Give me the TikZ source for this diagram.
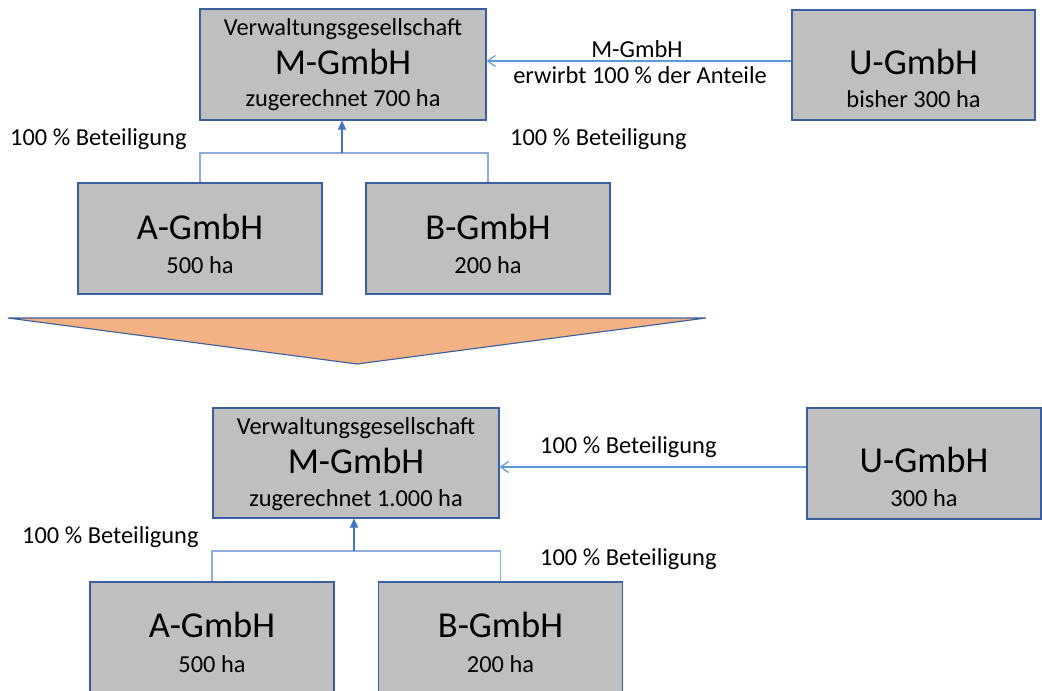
\documentclass[tikz,border=0pt]{standalone}
\usepackage{fontspec}
\setmainfont{Carlito}
\usetikzlibrary{arrows.meta}
\definecolor{boxfill}{HTML}{BFBFBF}
\definecolor{boxline}{HTML}{3A5FA0}
\definecolor{lineblue}{HTML}{5B9BD5}
\definecolor{bracketblue}{HTML}{8FAADC}
\definecolor{arrowblue}{HTML}{4472C4}
\definecolor{triorange}{HTML}{F4B183}
\tikzset{
  box/.style={draw=boxline, fill=boxfill, line width=1.1pt, inner sep=0pt},
  small/.style={inner sep=0pt, anchor=base, font=\fontsize{24.4}{28}\selectfont},
  big/.style={inner sep=0pt, anchor=base, font=\fontsize{36.5}{42}\selectfont},
  harrow/.style={draw=lineblue, line width=1.1pt, -{Straight Barb[length=8pt,width=11pt,line width=1.1pt]}},
  bracket/.style={draw=bracketblue, line width=1.1pt},
  uparrow/.style={draw=arrowblue, line width=1.1pt, -{Triangle[length=9pt,width=8pt]}},
  tri/.style={draw=boxline, fill=triorange, line width=1.1pt, line join=miter}
}
\begin{document}
\begin{tikzpicture}[x=1pt,y=-1pt]
\clip (0,0) rectangle (1042,691);
\fill[white] (0,0) rectangle (1042,691);
% ---------- top part ----------
\node[box, minimum width=286pt, minimum height=111pt] (M1) at (343,64.5) {};
\node[small] (M1a) at (343,35) {Verwaltungsgesellschaft};
\node[big] (M1b) at (343,74) {M-GmbH};
\node[small] (M1c) at (343,106) {zugerechnet 700 ha};

\node[box, minimum width=243pt, minimum height=110pt] (U1) at (913.5,65) {};
\node[big] (U1b) at (913.5,74) {U-GmbH};
\node[small] (U1c) at (913.5,107) {bisher 300 ha};

\node[box, minimum width=244pt, minimum height=111pt] (A1) at (200,238.5) {};
\node[big] (A1b) at (200,239) {A-GmbH};
\node[small] (A1c) at (200,273) {500 ha};

\node[box, minimum width=244pt, minimum height=111pt] (B1) at (488,238.5) {};
\node[big] (B1b) at (488,239) {B-GmbH};
\node[small] (B1c) at (488,273) {200 ha};

\draw[harrow] ([yshift=4pt]U1.west) -- ([yshift=4pt]U1.west -| M1.east);
\node[small] (L1) at (637,57) {M-GmbH};
\node[small] (L2) at (640,83) {erwirbt 100 \% der Anteile};

\coordinate (J1) at (342,153);
\draw[bracket] (A1.north) |- (J1) -| (B1.north);
\draw[uparrow] (J1) -- (J1 |- M1.south);
\node[small, anchor=base west] (L3) at (10,145) {100 \% Beteiligung};
\node[small, anchor=base west] (L4) at (510,145) {100 \% Beteiligung};

% ---------- triangle ----------
\coordinate (T1) at (8,318);
\coordinate (T2) at (706,318);
\coordinate (T3) at (357,364);
\draw[tri] (T1) -- (T2) -- (T3) -- cycle;

% ---------- bottom part ----------
\node[box, minimum width=286pt, minimum height=110pt] (M2) at (356,463) {};
\node[small] (M2a) at (356,434) {Verwaltungsgesellschaft};
\node[big] (M2b) at (356,473) {M-GmbH};
\node[small] (M2c) at (356,506) {zugerechnet 1.000 ha};

\node[box, minimum width=234pt, minimum height=111pt] (U2) at (924,463.5) {};
\node[big] (U2b) at (924,472) {U-GmbH};
\node[small] (U2c) at (924,506) {300 ha};

\node[box, minimum width=244pt, minimum height=111pt] (A2) at (212,637.5) {};
\node[big] (A2b) at (212,637) {A-GmbH};
\node[small] (A2c) at (212,672) {500 ha};

\node[box, minimum width=244pt, minimum height=111pt] (B2) at (500.5,637.5) {};
\node[big] (B2b) at (500.5,637) {B-GmbH};
\node[small] (B2c) at (500.5,672) {200 ha};

\draw[harrow] ([yshift=-3.5pt]U2.west) -- ([yshift=-3.5pt]U2.west -| M2.east);
\node[small, anchor=base west] (L5) at (540,453) {100 \% Beteiligung};

\coordinate (J2) at (354,551);
\draw[bracket] (A2.north) |- (J2) -| (B2.north);
\draw[uparrow] (J2) -- (J2 |- M2.south);
\node[small, anchor=base west] (L6) at (22,543) {100 \% Beteiligung};
\node[small, anchor=base west] (L7) at (540,565) {100 \% Beteiligung};
\end{tikzpicture}
\end{document}
